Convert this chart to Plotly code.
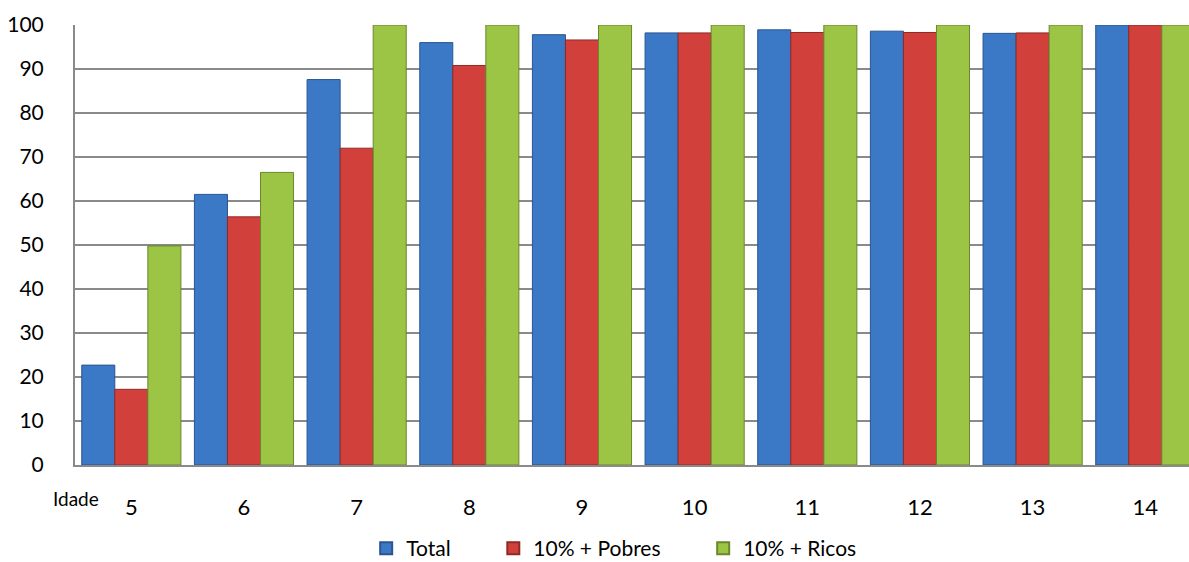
import plotly.graph_objects as go

idades = ["5", "6", "7", "8", "9", "10", "11", "12", "13", "14"]
total = [22.7, 61.5, 87.6, 96.0, 97.8, 98.2, 98.9, 98.6, 98.1, 100.0]
pobres = [17.2, 56.4, 72.0, 90.8, 96.6, 98.2, 98.3, 98.3, 98.2, 100.0]
ricos = [49.8, 66.5, 100.0, 100.0, 100.0, 100.0, 100.0, 100.0, 100.0, 100.0]
y_ticks = [0, 10, 20, 30, 40, 50, 60, 70, 80, 90, 100]

PAD = "\u00a0" * 7
series = [
    ("Total" + PAD, total, "#3B78C6", "#2A5590"),
    ("10% + Pobres" + PAD, pobres, "#D2403B", "#8E2A27"),
    ("10% + Ricos", ricos, "#9CC445", "#6A872C"),
]

fig = go.Figure()
for name, vals, col, edge in series:
    fig.add_trace(go.Bar(
        x=idades, y=vals, name=name,
        marker=dict(color=col, line=dict(color=edge, width=1)),
    ))

FONT = "Lato, 'Open Sans', sans-serif"

fig.update_layout(
    width=1189, height=562,
    margin=dict(l=75, r=0, t=25, b=97, autoexpand=False),
    paper_bgcolor="white", plot_bgcolor="white",
    barmode="group", bargap=0.12, bargroupgap=0,
    font=dict(family=FONT, size=20, color="#000000"),
    showlegend=True,
    legend=dict(orientation="h", x=0.484, xanchor="center", y=-0.19, yanchor="middle",
                font=dict(size=21), itemsizing="constant"),
    annotations=[dict(text="Idade", xref="paper", yref="paper", x=0.001, y=-0.075,
                      xanchor="center", yanchor="middle", showarrow=False,
                      font=dict(family=FONT, size=19, color="#000000"))],
)
fig.update_xaxes(
    type="category", range=[-0.5, 9.388], automargin=False,
    showline=True, linecolor="#8a8a8a", linewidth=2,
    showgrid=False, ticks="", ticklabelstandoff=22,
    tickfont=dict(size=22),
)
fig.update_yaxes(
    range=[0, 100], tickvals=y_ticks, ticktext=[str(v) for v in y_ticks],
    automargin=False,
    showline=True, linecolor="#8a8a8a", linewidth=2,
    showgrid=True, gridcolor="#8a8a8a", gridwidth=2,
    zeroline=False, ticks="", ticklabelstandoff=25,
    tickfont=dict(size=21),
)

fig.write_html("out.html", config={"displayModeBar": False},
               post_script="document.body.style.margin='0px';")
